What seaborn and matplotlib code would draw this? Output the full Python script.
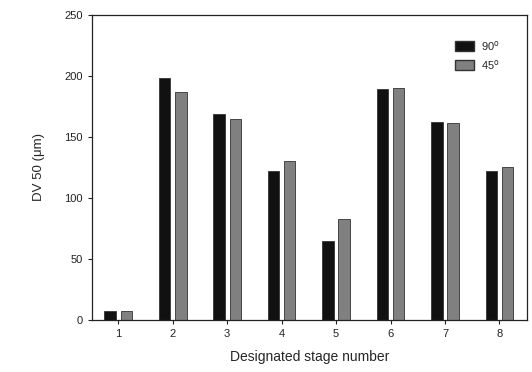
import matplotlib
matplotlib.use("Agg")
import matplotlib.pyplot as plt
import seaborn as sns
import pandas as pd
from matplotlib.patches import Patch

stages = ["1", "2", "3", "4", "5", "6", "7", "8"]
dv50_90 = [7, 198, 169, 122, 65, 189, 162, 122]
dv50_45 = [7, 187, 165, 130, 83, 190, 161, 125]
series = ["90", "45"]

df = pd.DataFrame({
    "stage": stages * 2,
    "value": dv50_90 + dv50_45,
    "angle": [series[0]] * len(stages) + [series[1]] * len(stages),
})

sns.set_style("ticks")
plt.rcParams["font.family"] = ["Liberation Sans", "DejaVu Sans"]

fig = plt.figure(figsize=(5.32, 3.72), dpi=100)
ax = fig.add_axes([0.173, 0.140, 0.817, 0.82])
colors = {"90": "#111111", "45": "#808080"}
sns.barplot(data=df, x="stage", y="value", hue="angle", palette=colors,
            width=0.6, gap=0.3, ax=ax, legend=False, edgecolor="#333333",
            linewidth=0.6)

ax.set_ylim(0, 250)
ax.set_yticks([0, 50, 100, 150, 200, 250])
ax.set_xlim(-0.48, 7.5)
for s in ax.spines.values():
    s.set_visible(True)
    s.set_color("#222222")
    s.set_linewidth(0.9)
ax.tick_params(axis="both", labelsize=8, direction="out", length=3, width=0.8, colors="#222222")
ax.set_xlabel("Designated stage number", fontsize=10, labelpad=8)
ax.set_ylabel("DV 50 (μm)", fontsize=9.5, labelpad=14)

handles = [Patch(facecolor=colors["90"], edgecolor="#333333"),
           Patch(facecolor=colors["45"], edgecolor="#333333")]
labels = ["90$^{\\rm o}$", "45$^{\\rm o}$"]
ax.legend(handles, labels, loc="upper right", bbox_to_anchor=(0.96, 0.955),
          frameon=False, fontsize=8, handlelength=1.7, handleheight=0.9,
          handletextpad=0.6, labelspacing=0.45)

fig.savefig("out.png", dpi=100)
